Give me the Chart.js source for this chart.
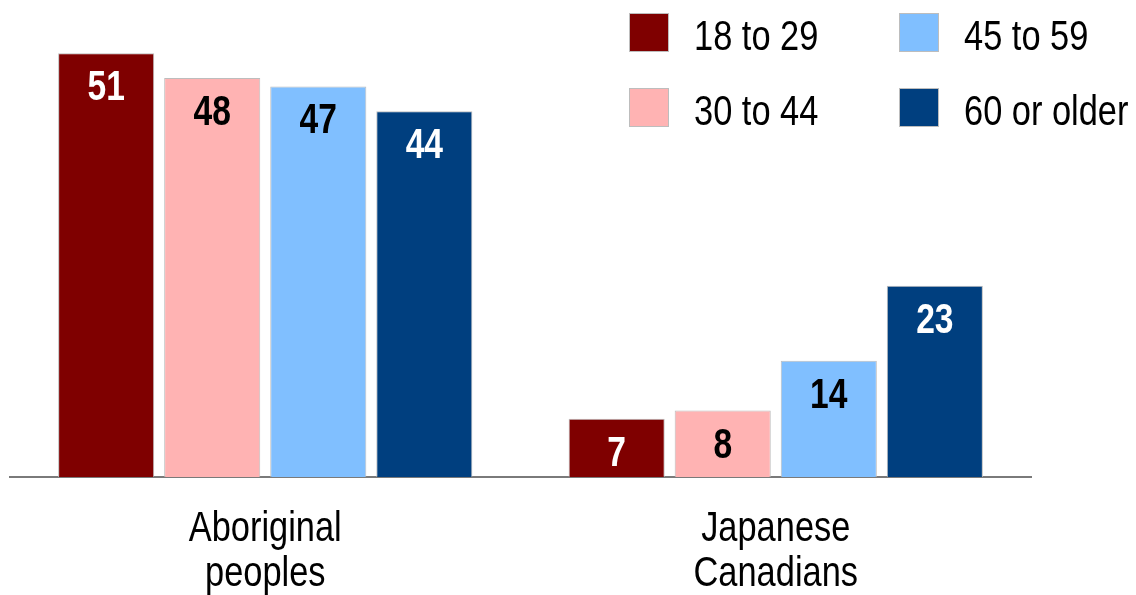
<!DOCTYPE html>
<html>
<head>
<meta charset="utf-8">
<script src="https://cdn.jsdelivr.net/npm/chart.js@4/dist/chart.umd.min.js"></script>
<style>
    html, body { margin: 0; padding: 0; background: #fff; }
</style>
</head>
<body>
<canvas id="chart" width="1136" height="595"></canvas>
<script>
const FONT = '"Liberation Sans", Arial, sans-serif';

const categories = [['Aboriginal', 'peoples'], ['Japanese', 'Canadians']];
const ageGroups = ['18 to 29', '30 to 44', '45 to 59', '60 or older'];
const age18to29 = [51, 7];
const age30to44 = [48, 8];
const age45to59 = [47, 14];
const age60plus = [44, 23];

const colors = ['#7f0000', '#ffb3b3', '#80bfff', '#003f7f'];
const labelColors = ['#fff', '#000', '#000', '#fff'];
const series = [age18to29, age30to44, age45to59, age60plus];

// condensed text: squeeze the regular face horizontally
function narrowText(ctx, text, x, y, sx, align) {
    ctx.save();
    ctx.translate(x, y);
    ctx.scale(sx, 1);
    ctx.textAlign = align;
    ctx.fillText(text, 0, 0);
    ctx.restore();
}

// value printed inside the top of each bar
const valueLabels = {
    id: 'valueLabels',
    afterDatasetsDraw(chart) {
        const ctx = chart.ctx;
        ctx.save();
        ctx.font = 'bold 42px ' + FONT;
        ctx.textBaseline = 'alphabetic';
        chart.data.datasets.forEach((ds, i) => {
            chart.getDatasetMeta(i).data.forEach((bar, j) => {
                ctx.fillStyle = labelColors[i];
                narrowText(ctx, String(ds.data[j]), bar.x, bar.y + 47, 0.8, 'center');
            });
        });
        ctx.restore();
    }
};

// two-line category names under the axis
const categoryLabels = {
    id: 'categoryLabels',
    afterDraw(chart) {
        const ctx = chart.ctx;
        const x = chart.scales.x;
        const base = chart.chartArea.bottom;
        ctx.save();
        ctx.font = '43px ' + FONT;
        ctx.fillStyle = '#000';
        ctx.textBaseline = 'alphabetic';
        chart.data.labels.forEach((lines, i) => {
            lines.forEach((line, k) => {
                narrowText(ctx, line, x.getPixelForValue(i), base + 64 + k * 45, 0.8, 'center');
            });
        });
        ctx.restore();
    }
};

// 2x2 legend in the upper right, filled column by column
const cornerLegend = {
    id: 'cornerLegend',
    afterDraw(chart) {
        const ctx = chart.ctx;
        ctx.save();
        ctx.font = '43px ' + FONT;
        ctx.textBaseline = 'alphabetic';
        chart.data.datasets.forEach((ds, i) => {
            const col = Math.floor(i / 2), row = i % 2;
            const bx = 629 + col * 270, by = 13 + row * 75;
            ctx.fillStyle = ds.backgroundColor;
            ctx.fillRect(bx, by, 40, 39);
            ctx.strokeStyle = '#bdbdbd';
            ctx.lineWidth = 1;
            ctx.strokeRect(bx + 0.5, by + 0.5, 39, 38);
            ctx.fillStyle = '#000';
            narrowText(ctx, ds.label, bx + 65, by + 37, 0.8, 'left');
        });
        ctx.restore();
    }
};

new Chart(document.getElementById('chart'), {
    type: 'bar',
    data: {
        labels: categories,
        datasets: series.map((data, i) => ({
            label: ageGroups[i],
            data: data,
            backgroundColor: colors[i],
            borderColor: '#bdbdbd',
            borderWidth: 1,
            categoryPercentage: 0.831,
            barPercentage: 0.906
        }))
    },
    options: {
        responsive: false,
        animation: false,
        layout: { padding: { left: 10, right: 105, top: 0, bottom: 0 } },
        plugins: {
            legend: { display: false },
            tooltip: { enabled: false }
        },
        scales: {
            x: {
                grid: { display: false, drawTicks: false },
                border: { display: true, color: '#7a7a7a', width: 2 },
                ticks: { display: false },
                afterFit: (scale) => { scale.height = 118; }
            },
            y: {
                display: false,
                min: 0,
                max: 57.4
            }
        }
    },
    plugins: [valueLabels, categoryLabels, cornerLegend]
});
</script>
</body>
</html>
